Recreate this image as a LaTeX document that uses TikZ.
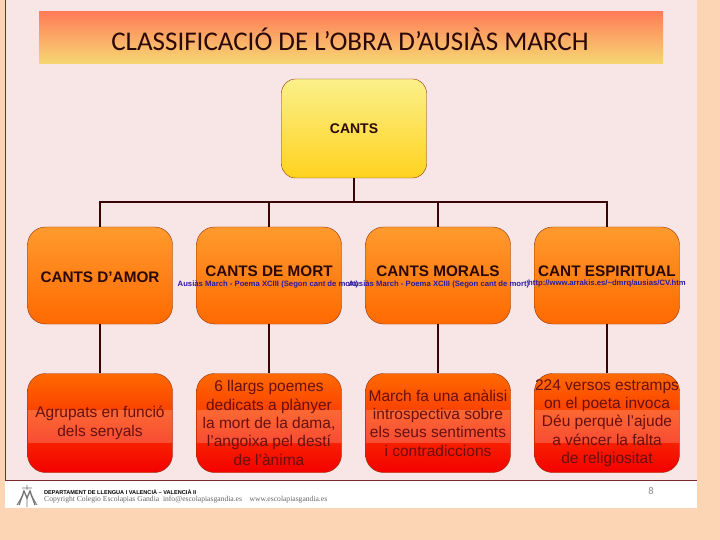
\documentclass[tikz,border=0pt]{standalone}
\usepackage{fontspec}
\setmainfont{Liberation Sans}
\newfontfamily\titlefont{Carlito}
\newfontfamily\footfont{Liberation Serif}
\definecolor{pagebg}{HTML}{FCD5B5}
\definecolor{slidebg}{HTML}{F8E6E6}
\definecolor{edgered}{HTML}{7A2A2A}
\definecolor{linkred}{HTML}{3A0505}
\definecolor{boxedge}{HTML}{8A3410}
\definecolor{bodytext}{HTML}{6A0F0F}
\definecolor{headtext}{HTML}{2A0808}
\definecolor{linkblue}{HTML}{2A1AA0}
\definecolor{titletop}{HTML}{FF7D58}
\definecolor{titlebot}{HTML}{F6D873}
\definecolor{roottop}{HTML}{FBF08A}
\definecolor{rootbot}{HTML}{FFD21E}
\definecolor{headtop}{HTML}{FF9A2E}
\definecolor{headbot}{HTML}{FF6A00}
\definecolor{texttop}{HTML}{FF6A00}
\definecolor{textbot}{HTML}{F40000}
\tikzset{
  rootbox/.style={draw=boxedge,rounded corners=14pt,minimum width=145pt,minimum height=99pt,
    top color=roottop,bottom color=rootbot,text=headtext,font=\bfseries\fontsize{14}{16}\selectfont},
  headbox/.style={draw=boxedge,rounded corners=18pt,minimum width=145pt,minimum height=97pt,inner sep=0pt,
    top color=headtop,bottom color=headbot,text=headtext,font=\bfseries\fontsize{15.3}{17}\selectfont,text depth=8pt},
  textbox/.style={draw=boxedge,rounded corners=18pt,minimum width=145pt,minimum height=99pt,inner sep=0pt,
    top color=texttop,bottom color=textbot,align=center,text=bodytext,
    font=\fontsize{15.5}{18.3}\selectfont,
    path picture={\fill[white,opacity=.2,sharp corners] ([yshift=-36pt]path picture bounding box.north west)
      rectangle ([yshift=-69pt]path picture bounding box.north east);}},
  weblink/.style={text=linkblue,font=\bfseries\fontsize{7.7}{9}\selectfont,inner sep=0pt},
  linkline/.style={draw=linkred,line width=1.2pt},
}
\begin{document}
\begin{tikzpicture}[x=1pt,y=-1pt]
\useasboundingbox (0,0) rectangle (720,540);
% fons de la diapositiva
\fill[pagebg] (0,0) rectangle (720,540);
\fill[slidebg] (5,0) rectangle (697,480);
\fill[white] (5,481) rectangle (697,508);
\draw[edgered] (5,0) -- (5,480) -- (697,480);
% titol
\shade[top color=titletop,bottom color=titlebot] (39,12) rectangle (663,64);
\node[font=\titlefont\fontsize{27}{30}\selectfont,text=headtext] (titol) at (350,39) {CLASSIFICACIÓ DE L’OBRA D’AUSIÀS MARCH};
% caixes
\node[rootbox] (cants) at (354,128.5) {CANTS};
\node[headbox,text height=14pt,text depth=0pt] (amor) at (100,275.5) {CANTS D’AMOR};
\node[headbox] (mort) at (269,275.5) {CANTS DE MORT};
\node[headbox] (morals) at (438,275.5) {CANTS MORALS};
\node[headbox] (espiritual) at (607,275.5) {CANT ESPIRITUAL};
\coordinate (bus) at (354,202);
\node[textbox] (amortext) at (100,423) {Agrupats en funció\\dels senyals};
\node[textbox] (morttext) at (269,423) {6 llargs poemes\\dedicats a plànyer\\la mort de la dama,\\l’angoixa pel destí\\de l’ànima};
\node[textbox] (moralstext) at (438,423) {March fa una anàlisi\\introspectiva sobre\\els seus sentiments\\i contradiccions};
\node[textbox] (espiritualtext) at (607,423) {224 versos estramps\\on el poeta invoca\\Déu perquè l’ajude\\a véncer la falta\\de religiositat};
% connexions
\foreach \n in {amor,mort,morals,espiritual}{
  \draw[linkline] (cants.south) -- (bus) -| (\n.north);
  \draw[linkline] (\n.south) -- (\n text.north);
}
% enllacos
\node[weblink] (enllac1) at (268,284) {Ausiàs March - Poema XCIII (Segon cant de mort)};
\node[weblink] (enllac2) at (439,284) {Ausiàs March - Poema XCIII (Segon cant de mort)};
\node[weblink] (enllac3) at (607,284) {http://www.arrakis.es/\textasciitilde dmrq/ausias/CV.htm};
% peu
\draw[black!55,line width=1.3pt] (19,505) -- (24,491) -- (27,498) -- (30,491) -- (35,505);
\draw[black!55,line width=.8pt] (17,505) -- (23,495) (37,505) -- (31,495) (27,498) -- (27,507) (22,488) -- (32,488) (27,485) -- (27,490);
\node[anchor=west,inner sep=0pt,font=\bfseries\fontsize{5.6}{6}\selectfont] (dept) at (44,492.5) {DEPARTAMENT DE LLENGUA I VALENCIÀ – VALENCIÀ II};
\node[anchor=west,inner sep=0pt,text=black!60,font=\footfont\fontsize{7.6}{8}\selectfont] (copy) at (44,499.5) {Copyright Colegio Escolapias Gandia\ \ info@escolapiasgandia.es\ \ \ \ www.escolapiasgandia.es};
\node[text=black!45,font=\titlefont\fontsize{10.5}{12}\selectfont] (pagina) at (651,491) {8};
\end{tikzpicture}
\end{document}
